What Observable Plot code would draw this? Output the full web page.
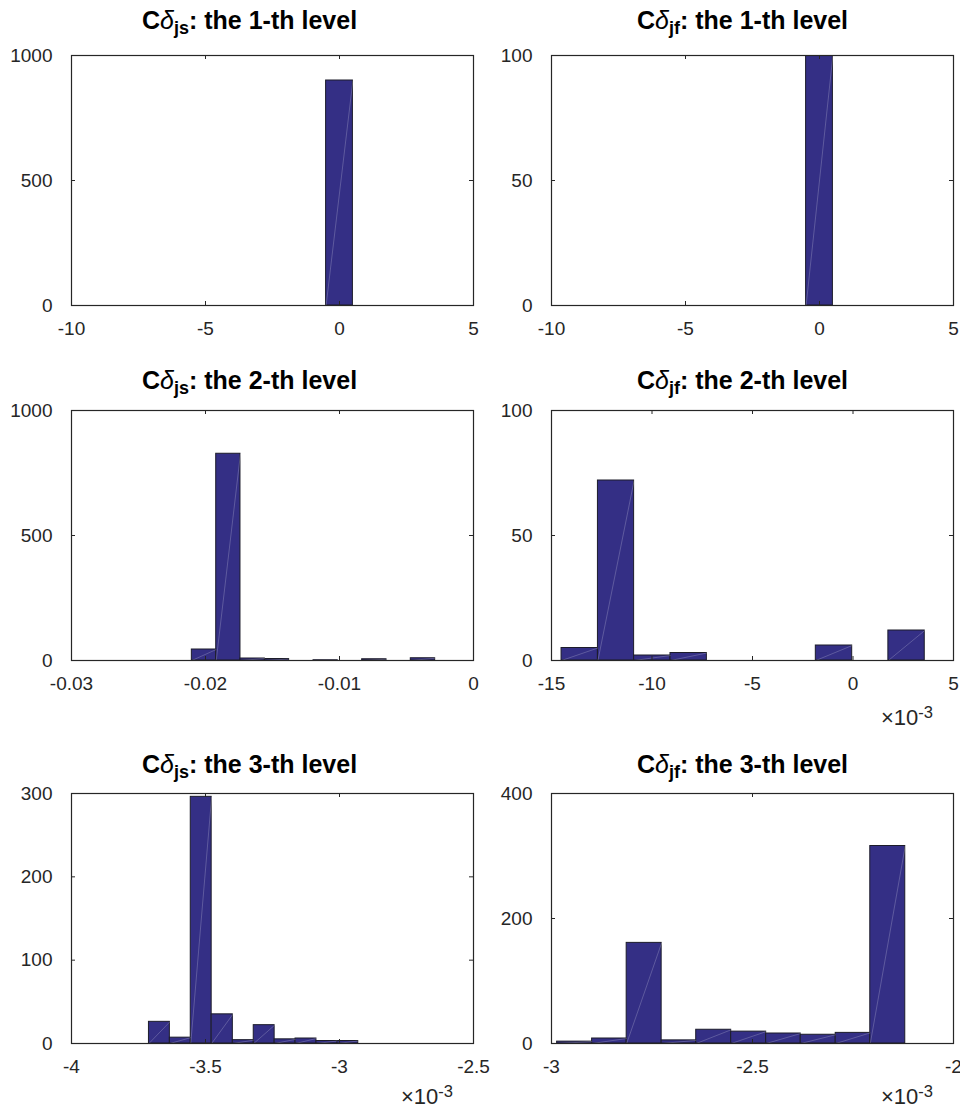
<!DOCTYPE html>
<html><head><meta charset="utf-8">
<script src="https://cdn.jsdelivr.net/npm/d3@7"></script>
<script src="https://cdn.jsdelivr.net/npm/@observablehq/plot@0.6"></script>
<style>
html,body{margin:0;padding:0;background:#fff;overflow:hidden}
#page{position:relative;width:960px;height:1110px;overflow:hidden;font-family:"Liberation Sans",Arial,sans-serif;background:#fff}
.panel{position:absolute}
.title{position:absolute;font-size:25px;line-height:25px;font-weight:bold;color:#000;white-space:nowrap}
.title .d{font-style:italic;font-weight:normal}
.title sub{font-size:0.72em;vertical-align:-0.25em;line-height:0}
.exp{position:absolute;font-size:22px;line-height:22px;color:#262626;white-space:nowrap}
.exp sup{font-size:0.75em;vertical-align:0.45em;line-height:0}
</style></head>
<body><div id="page"></div>
<script>
// ---- data ----
const titlesJs = ["1-th", "2-th", "3-th"];
// level 1 (width-1 bins)
const js1Edges = [-5.5, -4.5, -3.5, -2.5, -1.5, -0.5, 0.5, 1.5, 2.5, 3.5, 4.5];
const js1Counts = [0, 0, 0, 0, 0, 900, 0, 0, 0, 0];
const jf1Edges = [-5.5, -4.5, -3.5, -2.5, -1.5, -0.5, 0.5, 1.5, 2.5, 3.5, 4.5];
const jf1Counts = [0, 0, 0, 0, 0, 100, 0, 0, 0, 0];
// level 2
const js2Edges = [-0.02102, -0.01920, -0.01739, -0.01557, -0.01376, -0.01194, -0.01013, -0.00831, -0.00649, -0.00468, -0.00286];
const js2Counts = [44, 827, 8, 6, 0, 1, 0, 5, 0, 9];
const jf2Edges = [-14.50, -12.69, -10.89, -9.08, -7.27, -5.47, -3.66, -1.85, -0.04, 1.76, 3.57]; // x1e-3
const jf2Counts = [5, 72, 2, 3, 0, 0, 0, 6, 0, 12];
// level 3 (x1e-3)
const js3Edges = [-3.711, -3.633, -3.555, -3.477, -3.398, -3.320, -3.242, -3.164, -3.086, -3.008, -2.930];
const js3Counts = [26, 7, 296, 35, 4, 22, 5, 6, 3, 3];
const jf3Edges = [-2.986, -2.899, -2.813, -2.726, -2.640, -2.553, -2.466, -2.380, -2.293, -2.207, -2.120];
const jf3Counts = [3, 8, 161, 5, 22, 19, 16, 14, 17, 316];
// axes
const x1Ticks = [-10, -5, 0, 5];
const js1YTicks = [0, 500, 1000];
const jf1YTicks = [0, 50, 100];
const js2XTicks = [-0.03, -0.02, -0.01, 0];
const js2YTicks = [0, 500, 1000];
const jf2XTicks = [-15, -10, -5, 0, 5];
const jf2YTicks = [0, 50, 100];
const js3XTicks = [-4, -3.5, -3, -2.5];
const js3YTicks = [0, 100, 200, 300];
const jf3XTicks = [-3, -2.5, -2];
const jf3YTicks = [0, 200, 400];

// ---- drawing ----
const BAR = "#342f85", EDGE = "#1c1c2a", AX = "#262626";
const page = document.getElementById("page");

function hist(edges, counts, xTicks, yTicks) {
  const bins = counts.map((c, i) => ({x1: edges[i], x2: edges[i + 1], y1: 0, y2: c}));
  const W = 480, H = 320, mt = 10, mb = 60, ml = 71, mr = 7;
  const pw = W - ml - mr, ph = H - mt - mb, tk = 4;
  return Plot.plot({
    width: W, height: H, marginTop: mt, marginBottom: mb, marginLeft: ml, marginRight: mr,
    x: {domain: [xTicks[0], xTicks[xTicks.length - 1]]},
    y: {domain: [yTicks[0], yTicks[yTicks.length - 1]]},
    style: {fontFamily: '"Liberation Sans", Arial, sans-serif', fontSize: "19px", color: AX, overflow: "visible", background: "transparent"},
    marks: [
      Plot.rect(bins, {x1: "x1", x2: "x2", y1: "y1", y2: "y2", fill: BAR, stroke: EDGE, strokeWidth: 1, inset: 0, clip: true}),
      Plot.link(bins.filter(d => d.y2 > 0), {x1: "x1", y1: "y1", x2: "x2", y2: "y2", stroke: "#ffffff", strokeOpacity: 0.35, strokeWidth: 0.6, clip: true}),
      Plot.frame({stroke: AX, strokeWidth: 1.2}),
      Plot.ruleX(xTicks, {stroke: AX, insetTop: ph - tk}),
      Plot.ruleX(xTicks, {stroke: AX, insetBottom: ph - tk}),
      Plot.ruleY(yTicks, {stroke: AX, insetRight: pw - tk}),
      Plot.ruleY(yTicks, {stroke: AX, insetLeft: pw - tk}),
      Plot.axisX({ticks: xTicks, tickFormat: d => String(d), tickSize: 0, tickPadding: 16, label: null}),
      Plot.axisY({ticks: yTicks, tickFormat: d => String(d), tickSize: 0, tickPadding: 19, label: null})
    ]
  });
}

const panels = [
  {sub: "js", lvl: titlesJs[0], col: 0, row: 0, e: js1Edges, c: js1Counts, xt: x1Ticks, yt: js1YTicks, exp: false},
  {sub: "jf", lvl: titlesJs[0], col: 1, row: 0, e: jf1Edges, c: jf1Counts, xt: x1Ticks, yt: jf1YTicks, exp: false},
  {sub: "js", lvl: titlesJs[1], col: 0, row: 1, e: js2Edges, c: js2Counts, xt: js2XTicks, yt: js2YTicks, exp: false},
  {sub: "jf", lvl: titlesJs[1], col: 1, row: 1, e: jf2Edges, c: jf2Counts, xt: jf2XTicks, yt: jf2YTicks, exp: true},
  {sub: "js", lvl: titlesJs[2], col: 0, row: 2, e: js3Edges, c: js3Counts, xt: js3XTicks, yt: js3YTicks, exp: true},
  {sub: "jf", lvl: titlesJs[2], col: 1, row: 2, e: jf3Edges, c: jf3Counts, xt: jf3XTicks, yt: jf3YTicks, exp: true}
];
const rowSvgTop = [45, 400, 783];
const rowTitleTop = [8, 368, 752];
const rowExpTop = [707, 707, 1086];

for (const p of panels) {
  const wrap = document.createElement("div");
  wrap.className = "panel";
  wrap.style.left = (p.col * 480) + "px";
  wrap.style.top = rowSvgTop[p.row] + "px";
  wrap.appendChild(hist(p.e, p.c, p.xt, p.yt));
  page.appendChild(wrap);

  const t = document.createElement("div");
  t.className = "title";
  t.style.left = (p.col === 0 ? 142 : 637) + "px";
  t.style.top = rowTitleTop[p.row] + "px";
  t.innerHTML = `C<span class="d">δ</span><sub>${p.sub}</sub>: the ${p.lvl} level`;
  page.appendChild(t);

  if (p.exp) {
    const e = document.createElement("div");
    e.className = "exp";
    e.style.left = (p.col * 480 + 401) + "px";
    e.style.top = rowExpTop[p.row] + "px";
    e.innerHTML = `×10<sup>-3</sup>`;
    page.appendChild(e);
  }
}
</script>
</body></html>
